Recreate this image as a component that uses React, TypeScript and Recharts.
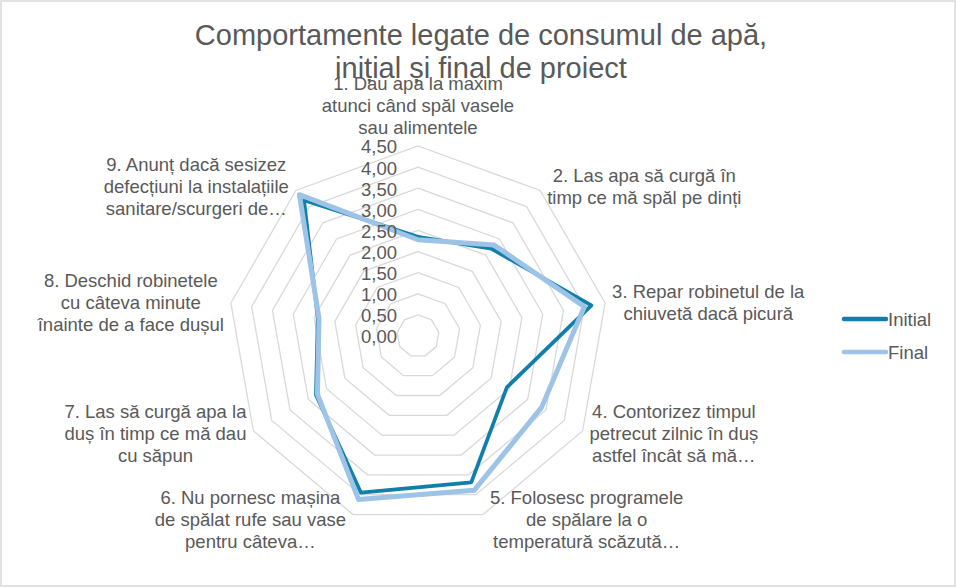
import { RadarChart, Radar, PolarGrid, PolarAngleAxis, PolarRadiusAxis, Legend } from 'recharts';

const CATEGORIES = [
  '1. Dau apa la maxim\natunci când spăl vasele\nsau alimentele',
  '2. Las apa să curgă în\ntimp ce mă spăl pe dinți',
  '3. Repar robinetul de la\nchiuvetă dacă picură',
  '4. Contorizez timpul\npetrecut zilnic în duș\nastfel încât să mă…',
  '5. Folosesc programele\nde spălare la o\ntemperatură scăzută…',
  '6. Nu pornesc mașina\nde spălat rufe sau vase\npentru câteva…',
  '7. Las să curgă apa la\nduș în timp ce mă dau\ncu săpun',
  '8. Deschid robinetele\ncu câteva minute\nînainte de a face dușul',
  '9. Anunț dacă sesizez\ndefecțiuni la instalațiile\nsanitare/scurgeri de…',
];
const INITIAL = [2.35, 2.7, 4.17, 2.43, 3.69, 3.95, 2.79, 2.41, 4.2];
const FINAL = [2.28, 2.81, 4.0, 3.38, 3.89, 4.12, 2.75, 2.38, 4.37];
const RADIUS_TICKS = [0, 0.5, 1, 1.5, 2, 2.5, 3, 3.5, 4, 4.5];
const SERIES_ORDER = ['Initial', 'Final'];
const TITLE = ['Comportamente legate de consumul de apă,', 'inițial și final de proiect'];

const data = CATEGORIES.map((name, i) => ({ name, Initial: INITIAL[i], Final: FINAL[i] }));

const W = 956;
const H = 587;
const CX = 418;
const CY = 336;
const R = 190; // radius of the 4,50 ring
// recharts rounds the radius domain up to 5, so stretch the scale so 4.5 lands on R
const DOMAIN_MAX = 5;
const SCALE_R = (R * DOMAIN_MAX) / RADIUS_TICKS[RADIUS_TICKS.length - 1];
const FONT = '"Liberation Sans", Arial, sans-serif';
const TEXT = '#595959';
const LABEL_SIZE = 18.5;
const LH = 22;
const GAP = 7;

let ctx: CanvasRenderingContext2D | null = null;
function measure(s: string) {
  if (!ctx) ctx = document.createElement('canvas').getContext('2d');
  if (!ctx) return s.length * 9;
  ctx.font = `${LABEL_SIZE}px ${FONT}`;
  return ctx.measureText(s).width;
}

// category labels: wrapped blocks placed just outside each vertex of the outer ring
function AngleTick(props: any) {
  const { payload } = props;
  let i = CATEGORIES.indexOf(payload?.value);
  if (i < 0) i = props.index ?? 0;
  const a = (i * 2 * Math.PI) / CATEGORIES.length;
  const sin = Math.sin(a);
  const cos = Math.cos(a);
  const vx = CX + R * sin;
  const vy = CY - R * cos;
  const lines = CATEGORIES[i].split('\n');
  const w = Math.max(...lines.map(measure));
  const h = lines.length * LH;
  let x = vx;
  let top = vy - 7 - h;
  if (Math.abs(sin) > 0.1) {
    x = sin > 0 ? vx + GAP + w / 2 : vx - GAP - w / 2;
    top = vy - cos * 5.5 - h / 2;
  }
  return (
    <text textAnchor="middle" fill={TEXT} fontSize={LABEL_SIZE} fontFamily={FONT}>
      {lines.map((l, k) => (
        <tspan key={k} x={x} y={top + LH * k + LH / 2 + LABEL_SIZE * 0.35}>
          {l}
        </tspan>
      ))}
    </text>
  );
}

function RadiusTick(props: any) {
  const { x, y, payload } = props;
  return (
    <text x={x - 21} y={y + 1 + LABEL_SIZE * 0.35} textAnchor="end" fill={TEXT} fontSize={LABEL_SIZE} fontFamily={FONT}>
      {Number(payload.value).toFixed(2).replace('.', ',')}
    </text>
  );
}

function LegendContent(props: any) {
  const items = [...(props.payload || [])].sort(
    (a: any, b: any) => SERIES_ORDER.indexOf(a.value) - SERIES_ORDER.indexOf(b.value),
  );
  return (
    <div>
      {items.map((it: any) => (
        <div key={it.value} style={{ display: 'flex', alignItems: 'center', height: 33 }}>
          <svg width={47} height={33}>
            <line x1={3} y1={16} x2={45} y2={16} stroke={it.color} strokeWidth={4.5} strokeLinecap="round" />
          </svg>
          <span style={{ fontFamily: FONT, fontSize: LABEL_SIZE, color: TEXT, lineHeight: '33px' }}>{it.value}</span>
        </div>
      ))}
    </div>
  );
}

export default function App() {
  return (
    <div style={{ position: 'absolute', left: 0, top: 0, width: W, height: H, background: '#fff' }}>
      <RadarChart width={W} height={H} data={data} cx={CX} cy={CY} outerRadius={SCALE_R} margin={{ top: 0, right: 0, bottom: 0, left: 0 }}>
        <PolarGrid gridType="polygon" radialLines={false} stroke="#D9D9D9" strokeWidth={1.3} />
        <PolarAngleAxis dataKey="name" tick={AngleTick} tickLine={false} axisLine={false} />
        <PolarRadiusAxis
          angle={90}
          domain={[0, DOMAIN_MAX]}
          allowDataOverflow
          ticks={RADIUS_TICKS as any}
          tick={RadiusTick}
          axisLine={false}
          tickLine={false}
        />
        <Radar
          name="Initial"
          dataKey="Initial"
          stroke="#127FAB"
          strokeWidth={3.75}
          strokeLinejoin="round"
          fill="none"
          fillOpacity={0}
          dot={false}
          isAnimationActive={false}
        />
        <Radar
          name="Final"
          dataKey="Final"
          stroke="#9DC3E6"
          strokeWidth={5}
          strokeLinejoin="round"
          fill="none"
          fillOpacity={0}
          dot={false}
          isAnimationActive={false}
        />
        <Legend
          layout="vertical"
          content={LegendContent}
          wrapperStyle={{ position: 'absolute', left: 841, top: 303, width: 110 }}
        />
      </RadarChart>
      <svg width={W} height={H} style={{ position: 'absolute', left: 0, top: 0, pointerEvents: 'none' }}>
        {TITLE.map((t, k) => (
          <text key={k} x={481} y={45 + k * 33} textAnchor="middle" fill={TEXT} fontSize={29} fontFamily={FONT}>
            {t}
          </text>
        ))}
        <rect x={1} y={1} width={W - 2} height={H - 2} fill="none" stroke="#D9D9D9" strokeWidth={1.5} />
      </svg>
    </div>
  );
}
